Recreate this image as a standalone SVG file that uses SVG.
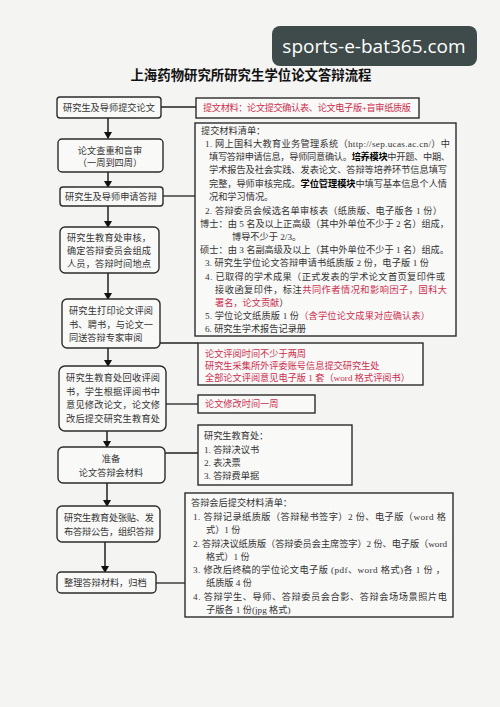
<svg xmlns="http://www.w3.org/2000/svg" width="500" height="707" viewBox="0 0 500 707">
<style>
.bg{fill:#f4f4f2}
.box{fill:#f9f9f8;stroke:#2b2b2b;stroke-width:1.4}
.t{font-family:"Liberation Serif","Noto Sans CJK SC",serif;font-size:9.2px;fill:#333}
.c{text-anchor:middle}
.red{fill:#cc2f4f}
.b{font-weight:bold;fill:#000}
.ln{stroke:#222;stroke-width:1.3;fill:none}
.ar{stroke:#111;stroke-width:1.4;fill:none;marker-end:url(#ah)}
</style>
<defs>
<marker id="ah" markerUnits="userSpaceOnUse" markerWidth="7" markerHeight="8" refX="6" refY="4" orient="auto">
<path d="M0,0 L7,4 L0,8 z" fill="#111"/>
</marker>
</defs>
<rect class="bg" x="0" y="0" width="500" height="707"/>

<g id="watermark">
<rect x="272" y="26" width="205" height="40" rx="8" fill="#3e4b4a"/>
<text x="374" y="53" text-anchor="middle" font-family="Open Sans, Noto Sans, sans-serif" font-size="19" fill="#fff">sports-e-bat365.com</text>
</g>

<g id="title">
<text x="251" y="80" text-anchor="middle" font-family="Noto Sans CJK SC, sans-serif" font-size="13.4" font-weight="bold" fill="#111">上海药物研究所研究生学位论文答辩流程</text>
</g>

<g id="connectors">
<line class="ar" x1="108" y1="118" x2="108" y2="138"/>
<line class="ar" x1="108" y1="172" x2="108" y2="187"/>
<line class="ar" x1="108" y1="206" x2="108" y2="227"/>
<line class="ar" x1="108" y1="273" x2="108" y2="299"/>
<line class="ar" x1="108" y1="348" x2="108" y2="366"/>
<line class="ar" x1="107" y1="431" x2="107" y2="447"/>
<line class="ar" x1="107" y1="483" x2="107" y2="506"/>
<line class="ar" x1="105" y1="542" x2="105" y2="572"/>
<line class="ln" x1="161" y1="107" x2="196" y2="107"/>
<line class="ln" x1="163" y1="196" x2="195" y2="196"/>
<line class="ln" x1="160" y1="343" x2="198" y2="343"/>
<line class="ln" x1="166" y1="404" x2="198" y2="404"/>
<line class="ln" x1="165" y1="453" x2="198" y2="453"/>
<line class="ln" x1="156" y1="583" x2="185" y2="583"/>
</g>

<g id="n1"><rect class="box" x="57" y="97" width="104" height="21" rx="3"/>
<text class="t c" x="109" y="111">研究生及导师提交论文</text></g>

<g id="n2"><rect class="box" x="58" y="139" width="105" height="33" rx="4"/>
<text class="t c" x="110" y="154">论文查重和盲审</text>
<text class="t c" x="110" y="166">（一周到四周）</text></g>

<g id="n3"><rect class="box" x="60" y="187" width="103" height="19" rx="3"/>
<text class="t c" x="111" y="200">研究生及导师申请答辩</text></g>

<g id="n4"><rect class="box" x="60" y="227" width="99" height="46" rx="5"/>
<text class="t" x="67" y="241" textLength="84" lengthAdjust="spacing">研究生教育处审核，</text>
<text class="t" x="67" y="254" textLength="84" lengthAdjust="spacing">确定答辩委员会组成</text>
<text class="t" x="67" y="267" textLength="84" lengthAdjust="spacing">人员，答辩时间地点</text></g>

<g id="n5"><rect class="box" x="62" y="299" width="98" height="49" rx="5"/>
<text class="t" x="69" y="314" textLength="84" lengthAdjust="spacing">研究生打印论文评阅</text>
<text class="t" x="69" y="328" textLength="84" lengthAdjust="spacing">书、聘书，与论文一</text>
<text class="t" x="69" y="341">同送答辩专家审阅</text></g>

<g id="n6"><rect class="box" x="59" y="366" width="107" height="65" rx="6"/>
<text class="t" x="66" y="381" textLength="94" lengthAdjust="spacing">研究生教育处回收评阅</text>
<text class="t" x="66" y="395" textLength="94" lengthAdjust="spacing">书，学生根据评阅书中</text>
<text class="t" x="66" y="408" textLength="94" lengthAdjust="spacing">意见修改论文，论文修</text>
<text class="t" x="66" y="422" textLength="94" lengthAdjust="spacing">改后提交研究生教育处</text></g>

<g id="n7"><rect class="box" x="58" y="447" width="107" height="36" rx="5"/>
<text class="t c" x="111" y="462">准备</text>
<text class="t c" x="111" y="476">论文答辩会材料</text></g>

<g id="n8"><rect class="box" x="57" y="506" width="103" height="36" rx="5"/>
<text class="t" x="64" y="521" textLength="90" lengthAdjust="spacing">研究生教育处张贴、发</text>
<text class="t" x="64" y="535" textLength="90" lengthAdjust="spacing">布答辩公告，组织答辩</text></g>

<g id="n9"><rect class="box" x="57" y="572" width="99" height="21" rx="4"/>
<text class="t" x="64" y="586">整理答辩材料，归档</text></g>

<g id="rA"><rect class="box" x="196" y="98" width="223" height="20"/>
<text class="t red" x="203" y="111" textLength="208" lengthAdjust="spacing">提文材料：论文提交确认表、论文电子版+盲审纸质版</text></g>

<g id="rB"><rect class="box" x="195" y="123" width="261" height="213"/>
<text class="t" x="201" y="134">提交材料清单：</text>
<text class="t" x="205" y="147" textLength="245" lengthAdjust="spacing">1. 网上国科大教育业务管理系统（http://sep.ucas.ac.cn/）中</text>
<text class="t" x="209" y="160" textLength="241" lengthAdjust="spacing">填写答辩申请信息，导师同意确认。<tspan class="b">培养模块</tspan>中开题、中期、</text>
<text class="t" x="209" y="173" textLength="238" lengthAdjust="spacing">学术报告及社会实践、发表论文、答辩等培养环节信息填写</text>
<text class="t" x="209" y="187" textLength="238" lengthAdjust="spacing">完整，导师审核完成。<tspan class="b">学位管理模块</tspan>中填写基本信息个人情</text>
<text class="t" x="209" y="200">况和学习情况。</text>
<text class="t" x="205" y="214" textLength="237" lengthAdjust="spacing">2. 答辩委员会候选名单审核表（纸质版、电子版各 1 份）</text>
<text class="t" x="200" y="227" textLength="249" lengthAdjust="spacing">博士：由 5 名及以上正高级（其中外单位不少于 2 名）组成，</text>
<text class="t" x="232" y="240">博导不少于 2/3。</text>
<text class="t" x="200" y="253" textLength="249" lengthAdjust="spacing">硕士：由 3 名副高级及以上（其中外单位不少于 1 名）组成。</text>
<text class="t" x="205" y="266" textLength="224" lengthAdjust="spacing">3. 研究生学位论文答辩申请书纸质版 2 份，电子版 1 份</text>
<text class="t" x="205" y="280" textLength="240" lengthAdjust="spacing">4. 已取得的学术成果（正式发表的学术论文首页复印件或</text>
<text class="t" x="215" y="293" textLength="232" lengthAdjust="spacing">接收函复印件，标注<tspan class="red">共同作者情况和影响因子，国科大</tspan></text>
<text class="t" x="215" y="306"><tspan class="red">署名，论文贡献</tspan>）</text>
<text class="t" x="205" y="319" textLength="225" lengthAdjust="spacing">5. 学位论文纸质版 1 份<tspan class="red">（含学位论文成果对应确认表）</tspan></text>
<text class="t" x="205" y="332">6. 研究生学术报告记录册</text></g>

<g id="rC"><rect class="box" x="198" y="343" width="225" height="42"/>
<text class="t red" x="205" y="357" font-size="8.8">论文评阅时间不少于两周</text>
<text class="t red" x="205" y="369" font-size="8.8">研究生采集所外评委账号信息提交研究生处</text>
<text class="t red" x="205" y="381" font-size="8.8">全部论文评阅意见电子版 1 套（word 格式评阅书）</text></g>

<g id="rD"><rect class="box" x="198" y="395" width="117" height="18"/>
<text class="t red" x="205" y="407" font-size="8.8">论文修改时间一周</text></g>

<g id="rE"><rect class="box" x="198" y="425" width="154" height="60"/>
<text class="t" x="204" y="439">研究生教育处：</text>
<text class="t" x="204" y="453">1. 答辩决议书</text>
<text class="t" x="204" y="466">2. 表决票</text>
<text class="t" x="204" y="479">3. 答辩费单据</text></g>

<g id="rF"><rect class="box" x="185" y="493" width="268" height="124"/>
<text class="t" x="191" y="506">答辩会后提交材料清单：</text>
<text class="t" x="193" y="520" textLength="253" lengthAdjust="spacing">1. 答辩记录纸质版（答辩秘书签字）2 份、电子版（word 格</text>
<text class="t" x="206" y="533">式）1 份</text>
<text class="t" x="193" y="547" textLength="254" lengthAdjust="spacing">2. 答辩决议纸质版（答辩委员会主席签字）2 份、电子版（word</text>
<text class="t" x="206" y="560">格式）1 份</text>
<text class="t" x="193" y="573" textLength="252" lengthAdjust="spacing">3. 修改后终稿的学位论文电子版 (pdf、word 格式)各 1 份 ，</text>
<text class="t" x="206" y="586">纸质版 4 份</text>
<text class="t" x="193" y="600" textLength="254" lengthAdjust="spacing">4. 答辩学生、导师、答辩委员会合影、答辩会场场景照片电</text>
<text class="t" x="206" y="613">子版各 1 份(jpg 格式)</text></g>
</svg>
